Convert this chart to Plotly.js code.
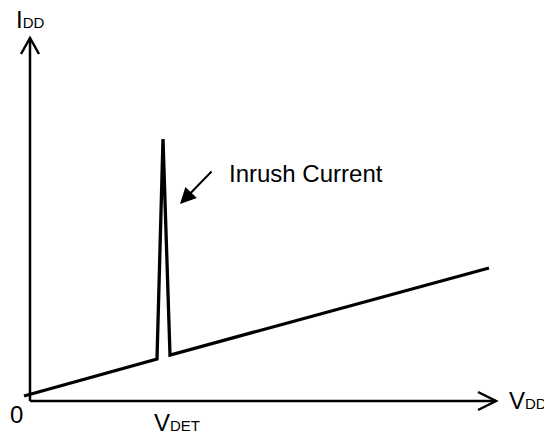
<!DOCTYPE html>
<html>
<head>
<meta charset="utf-8">
<script src="https://cdn.plot.ly/plotly-3.0.1.min.js"></script>
<style>html,body{margin:0;padding:0;background:#fff;}#chart{width:544px;height:434px;}</style>
</head>
<body>
<div id="chart"></div>
<script>
// Curve: supply current I_DD versus supply voltage V_DD (schematic units)
const vdd = [-0.6, 12.7, 13.3, 14.0, 45.9];
const idd = [0.5, 4.2, 26.2, 4.6, 13.3];

// Axis extents (schematic units)
const xAxisEnd = 46.6;
const yAxisEnd = 36.3;

// Labels
const yLabel = 'I<span style="font-size:15px">DD</span>';
const xLabel = 'V<span style="font-size:15px">DD</span>';
const detLabel = 'V<span style="font-size:15px">DET</span>';
const originLabel = '0';
const inrushLabel = 'Inrush Current';

const font = {family: 'Liberation Sans, Arial, sans-serif', size: 24, color: '#000'};

const shapes = [
  {type: 'line', xref: 'x', yref: 'y', x0: 0, y0: 0, x1: 0, y1: yAxisEnd, line: {color: '#000', width: 2.5}},
  {type: 'line', xref: 'x', yref: 'y', x0: 0, y0: 0, x1: xAxisEnd, y1: 0, line: {color: '#000', width: 2.5}},
  {type: 'path', xref: 'x', yref: 'y', path: `M -0.9 ${yAxisEnd - 1.6} L 0 ${yAxisEnd} L 0.9 ${yAxisEnd - 1.6}`, line: {color: '#000', width: 2.5}},
  {type: 'path', xref: 'x', yref: 'y', path: `M ${xAxisEnd - 1.8} 0.9 L ${xAxisEnd} 0 L ${xAxisEnd - 1.8} -0.9`, line: {color: '#000', width: 2.5}}
];

const annotations = [
  {x: 15.0, y: 19.7, ax: 18.3, ay: 23.1, axref: 'x', ayref: 'y', xref: 'x', yref: 'y', text: '', showarrow: true, arrowhead: 2, arrowsize: 1.6, arrowwidth: 2, arrowcolor: '#000'},
  {x: 19.7, y: 22.75, xref: 'x', yref: 'y', text: inrushLabel, showarrow: false, xanchor: 'left', yanchor: 'middle', font: font},
  {x: -1.6, y: 38.2, xref: 'x', yref: 'y', text: yLabel, showarrow: false, xanchor: 'left', yanchor: 'middle', font: font},
  {x: 47.7, y: 0.1, xref: 'x', yref: 'y', text: xLabel, showarrow: false, xanchor: 'left', yanchor: 'middle', font: font},
  {x: 12.2, y: -2.1, xref: 'x', yref: 'y', text: detLabel, showarrow: false, xanchor: 'left', yanchor: 'middle', font: font},
  {x: -1.35, y: -1.3, xref: 'x', yref: 'y', text: originLabel, showarrow: false, xanchor: 'center', yanchor: 'middle', font: font}
];

const trace = {x: vdd, y: idd, type: 'scatter', mode: 'lines', line: {color: '#000', width: 3.3}, hoverinfo: 'skip'};

const layout = {
  width: 544, height: 434,
  margin: {l: 0, r: 0, t: 0, b: 0, pad: 0},
  paper_bgcolor: '#fff', plot_bgcolor: '#fff',
  showlegend: false,
  xaxis: {range: [-3, 51.4], visible: false, showgrid: false, zeroline: false, fixedrange: true},
  yaxis: {range: [-3.3, 40.1], visible: false, showgrid: false, zeroline: false, fixedrange: true},
  shapes: shapes,
  annotations: annotations
};

Plotly.newPlot('chart', [trace], layout, {displayModeBar: false, staticPlot: true});
</script>
</body>
</html>
